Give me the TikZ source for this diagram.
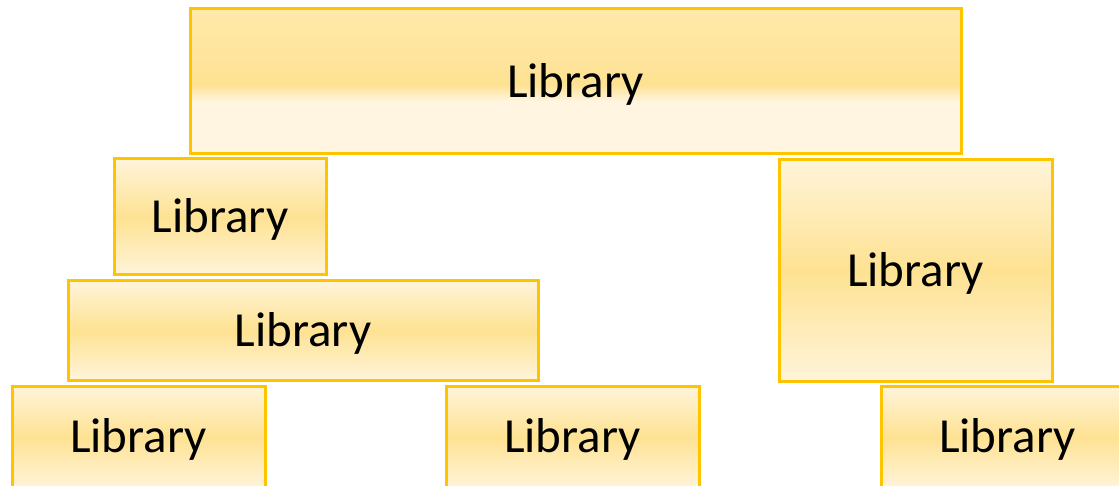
\documentclass[tikz,border=0pt]{standalone}
\usepackage{fontspec}
\setmainfont{Carlito}
\definecolor{libedge}{RGB}{255,196,0}
\definecolor{libdark}{RGB}{254,226,146}
\definecolor{liblight}{RGB}{255,244,218}
\definecolor{libpale}{RGB}{255,245,225}
\definecolor{libmid}{RGB}{254,228,156}
\definecolor{libband}{RGB}{255,233,170}
\pgfdeclareverticalshading{libtopshade}{100bp}{color(0bp)=(libpale); color(25bp)=(libpale); color(43bp)=(libpale); color(49bp)=(libdark); color(58bp)=(libmid); color(75bp)=(libband); color(100bp)=(libband)}
\begin{document}
\begin{tikzpicture}[x=1pt, y=-1pt,
        libbox/.style={draw=libedge, line width=3pt, rectangle, inner sep=0pt, text height=31.5pt, text depth=0pt, font=\fontsize{49}{58}\selectfont},
        box/.style={libbox, top color=liblight, bottom color=liblight, middle color=libdark},
        topbox/.style={libbox, shade, shading=libtopshade}
    ]
        \clip (0,0) rectangle (1119,486);

        \node[topbox, minimum width=771pt, minimum height=145pt] (lib) at (575.5, 81.5) {Library};

        \node[box, minimum width=212pt, minimum height=116pt] (libleft) at (220, 217) {Library};
        \node[box, minimum width=470pt, minimum height=99pt] (libmidleft) at (303, 330.5) {Library};
        \node[box, minimum width=273pt, minimum height=221pt] (libright) at (915.5, 270.5) {Library};

        \node[box, minimum width=253pt, minimum height=102pt] (libbotleft) at (138.5, 437) {Library};
        \node[box, minimum width=253pt, minimum height=102pt] (libbotmid) at (572.5, 437) {Library};
        \node[box, minimum width=253pt, minimum height=102pt] (libbotright) at (1007.5, 437) {Library};
    \end{tikzpicture}
\end{document}
